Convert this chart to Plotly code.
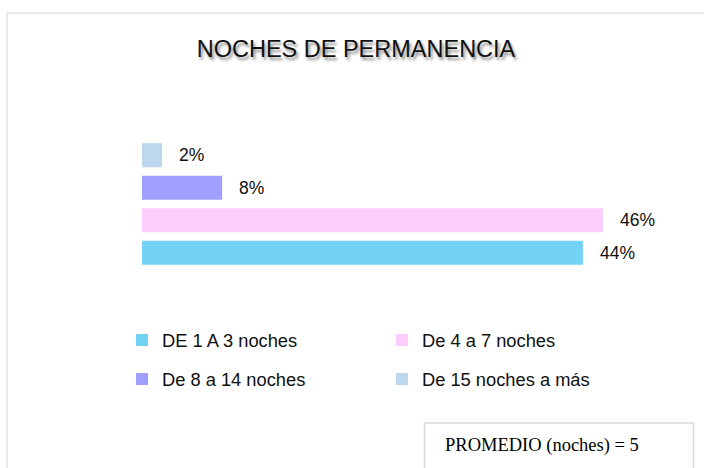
import plotly.graph_objects as go

# ---- data ----
categories = ["DE 1 A 3 noches", "De 4 a 7 noches", "De 8 a 14 noches", "De 15 noches a más"]
values = [44, 46, 8, 2]
colors = ["#72D3F5", "#FCCCFC", "#9F9FFF", "#BDD7EE"]
title_text = "NOCHES DE PERMANENCIA"
promedio_text = "PROMEDIO (noches) = 5"

W, H = 704, 468
ML, MR, MT, MB = 142, 11, 139, 199
PW = W - ML - MR
PH = H - MT - MB


def px_x(p):
    return (p - ML) / PW


def px_y(p):
    return (H - MB - p) / PH


fig = go.Figure()
legend_of = ["legend", "legend", "legend2", "legend2"]
for cat, val, col, lg in zip(categories, values, colors, legend_of):
    fig.add_trace(go.Bar(
        x=[val], y=[cat], orientation="h", name=cat,
        marker=dict(color=col, line=dict(width=0)),
        width=0.74, legend=lg, hoverinfo="x+name",
    ))

for cat, val in zip(categories, values):
    fig.add_annotation(
        x=val, y=cat, xref="x", yref="y", text=f"{val}%",
        showarrow=False, xanchor="left", yanchor="middle", xshift=15,
        font=dict(family="Liberation Sans, Arial", size=17.5, color="#111111"),
    )

# promedio box and text
fig.add_shape(type="rect", xref="paper", yref="paper",
              x0=px_x(424.5), x1=px_x(693.5), y0=px_y(480), y1=px_y(423),
              line=dict(color="#D9D9D9", width=1.5), fillcolor="white", layer="above")
fig.add_annotation(x=px_x(443), y=px_y(445), xref="paper", yref="paper",
                   text=promedio_text, showarrow=False, xanchor="left", yanchor="middle",
                   font=dict(family="Liberation Serif, Times New Roman", size=18.5, color="#000000"))

# outer chart border
fig.add_shape(type="rect", xref="paper", yref="paper",
              x0=px_x(7), x1=px_x(720), y0=px_y(490), y1=px_y(13),
              line=dict(color="#E3E3E3", width=1.5), fillcolor="rgba(0,0,0,0)", layer="below")

legend_common = dict(
    orientation="h", xanchor="left", yanchor="middle",
    font=dict(family="Liberation Sans, Arial", size=18.3, color="#111111"),
    entrywidth=215, entrywidthmode="pixels", bgcolor="rgba(0,0,0,0)",
    itemclick=False, itemdoubleclick=False,
)

fig.update_layout(
    width=W, height=H,
    margin=dict(l=ML, r=MR, t=MT, b=MB, pad=0),
    paper_bgcolor="white", plot_bgcolor="white",
    barmode="overlay",
    showlegend=True,
    title=dict(text=title_text, x=356 / W, xref="container", xanchor="center",
               y=1 - 49 / H, yref="container", yanchor="middle",
               font=dict(family="Liberation Sans, Arial", size=23.5, color="#111111",
                         shadow="2px 3px 3px rgba(0,0,0,0.45)")),
    xaxis=dict(range=[0, PW / 10.02], visible=False, fixedrange=True),
    yaxis=dict(categoryorder="array", categoryarray=categories,
               range=[-0.5, 3.5], visible=False, fixedrange=True),
    legend=dict(x=px_x(122), y=px_y(340), **legend_common),
    legend2=dict(x=px_x(122), y=px_y(379), **legend_common),
)

fig.write_html("out.html", config={"displayModeBar": False},
               post_script="document.body.style.margin='0';")
